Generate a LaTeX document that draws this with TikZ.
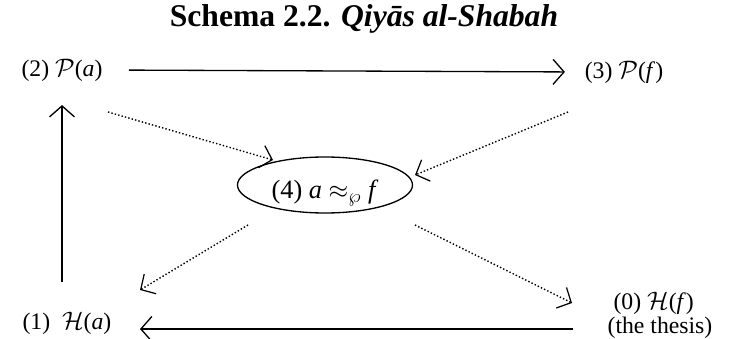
\documentclass[tikz,border=0pt]{standalone}
\usepackage{fontspec}
\setmainfont{Liberation Serif}
\usetikzlibrary{arrows.meta,positioning,calc,shapes.geometric}

\tikzset{
  lbl/.style={font=\fontsize{13.5}{11.5}\selectfont, inner sep=2pt},
  solidarr/.style={line width=0.75pt, -{Straight Barb[length=2.2mm,width=5mm]}},
  dotarr/.style={line width=0.8pt, dash pattern=on 0.8pt off 1.2pt,
    -{Straight Barb[length=2.2mm,width=4.6mm,line width=0.7pt]}}
}

\begin{document}
\begin{tikzpicture}
  \useasboundingbox (0,0) rectangle (14.68,6.78);

  % Title
  \node[font=\fontsize{18}{20}\selectfont\bfseries] (title) at (7.28,6.4)
    {Schema 2.2. \textit{Qiyās al-Shabah}};

  % The five stations
  \node[lbl] (p2a) at (1.24,5.38) {(2) $\mathcal{P}$(\textit{a})};
  \node[lbl] (p3f) at (12.48,5.34) {(3) $\mathcal{P}$(\textit{f})};
  \node[lbl] (h1a) at (1.34,0.32) {(1)\ \ $\mathcal{H}$(\textit{a})};
  \node[lbl, align=left] (h0f) at (13.2,0.47) {\ (0) $\mathcal{H}$(\textit{f})\\(the thesis)};
  \node[draw, line width=0.75pt, ellipse, minimum width=3.5cm, minimum height=1.12cm,
        inner sep=0pt] (e4) at (6.5,3.08) {};
  \node[font=\fontsize{15}{17}\selectfont] (e4txt) at (6.5,2.92)
    {(4) \textit{a} $\approx_{\wp}$ \textit{f}};

  % Free ends of the connectors
  \coordinate (bR) at (11.46,0.2);
  \coordinate (bL) at (2.8,0.2);
  \coordinate (s2) at (2.16,4.54);
  \coordinate (t2) at (5.46,3.58);
  \coordinate (s3) at (11.36,4.54);
  \coordinate (t3) at (8.3,3.28);
  \coordinate (s1) at (4.96,2.28);
  \coordinate (t1) at (2.8,0.98);
  \coordinate (s0) at (8.3,2.28);
  \coordinate (t0) at (11.44,0.72);

  % Solid arrows
  \draw[solidarr, shorten <=0.45cm, shorten >=0.32cm] (p2a.east) -- (p3f.west);
  \draw[solidarr, shorten <=0.52cm, shorten >=0.4cm] (p2a |- h1a.north) -- (p2a.south);
  \draw[solidarr] (bR) -- (bL);

  % Dotted arrows
  \draw[dotarr] (s2) -- (t2);
  \draw[dotarr] (s3) -- (t3);
  \draw[dotarr] (s1) -- (t1);
  \draw[dotarr] (s0) -- (t0);
\end{tikzpicture}
\end{document}
